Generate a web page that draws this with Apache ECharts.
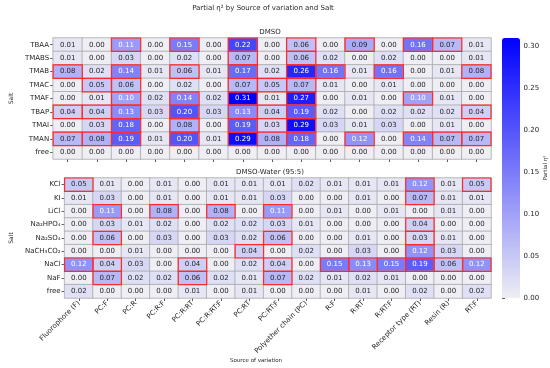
<!DOCTYPE html>
<html>
<head>
<meta charset="utf-8">
<script src="https://cdn.jsdelivr.net/npm/echarts@6/dist/echarts.min.js"></script>
<style>html,body{margin:0;padding:0;background:#fff;}#c{width:550px;height:368px;}</style>
</head>
<body>
<div id="c"></div>
<script>
const sources = ['Fluorophore (F)','PC:F','PC:R','PC:R:F','PC:R:RT','PC:R:RT:F','PC:RT','PC:RT:F','Polyether chain (PC)','R:F','R:RT','R:RT:F','Receptor type (RT)','Resin (R)','RT:F'];
const dmsoSalts = ['TBAA','TMABS','TMAB','TMAC','TMAF','TBAP','TMAI','TMAN','free'];
const waterSalts = ['KCl','KI','LiCl','Na₂HPO₄','Na₂SO₄','NaCH₃CO₂','NaCl','NaF','free'];
const dmsoValues = [
  [0.01,0.00,0.11,0.00,0.15,0.00,0.22,0.00,0.06,0.00,0.09,0.00,0.16,0.07,0.01],
  [0.01,0.00,0.03,0.00,0.02,0.00,0.07,0.00,0.06,0.02,0.00,0.02,0.00,0.00,0.01],
  [0.08,0.02,0.14,0.01,0.06,0.01,0.17,0.02,0.26,0.16,0.01,0.16,0.00,0.01,0.08],
  [0.00,0.05,0.06,0.00,0.02,0.00,0.07,0.05,0.07,0.01,0.00,0.01,0.00,0.00,0.00],
  [0.00,0.01,0.10,0.02,0.14,0.02,0.31,0.01,0.27,0.00,0.01,0.00,0.10,0.01,0.00],
  [0.04,0.04,0.13,0.03,0.20,0.03,0.13,0.04,0.19,0.02,0.00,0.02,0.02,0.02,0.04],
  [0.00,0.03,0.18,0.00,0.08,0.00,0.19,0.03,0.29,0.03,0.01,0.03,0.00,0.01,0.00],
  [0.07,0.08,0.19,0.01,0.20,0.01,0.29,0.08,0.18,0.00,0.12,0.00,0.14,0.07,0.07],
  [0.00,0.00,0.00,0.00,0.00,0.00,0.00,0.00,0.00,0.00,0.00,0.00,0.00,0.00,0.00]
];
const waterValues = [
  [0.05,0.01,0.00,0.01,0.00,0.01,0.01,0.01,0.02,0.01,0.01,0.01,0.12,0.01,0.05],
  [0.01,0.03,0.00,0.01,0.00,0.01,0.01,0.03,0.00,0.00,0.01,0.00,0.07,0.01,0.01],
  [0.00,0.11,0.00,0.08,0.00,0.08,0.00,0.11,0.00,0.01,0.00,0.01,0.00,0.01,0.00],
  [0.00,0.03,0.01,0.02,0.00,0.02,0.02,0.03,0.01,0.00,0.00,0.00,0.04,0.00,0.00],
  [0.00,0.06,0.00,0.03,0.00,0.03,0.02,0.06,0.00,0.00,0.01,0.00,0.03,0.01,0.00],
  [0.00,0.00,0.01,0.00,0.00,0.00,0.04,0.00,0.02,0.00,0.03,0.00,0.12,0.03,0.00],
  [0.12,0.04,0.03,0.00,0.04,0.00,0.02,0.04,0.00,0.15,0.13,0.15,0.19,0.06,0.12],
  [0.00,0.07,0.02,0.02,0.06,0.02,0.01,0.07,0.02,0.01,0.02,0.01,0.00,0.00,0.00],
  [0.02,0.00,0.00,0.00,0.01,0.00,0.01,0.00,0.00,0.00,0.01,0.00,0.02,0.00,0.02]
];
const dmsoSig = [
  [0,0,1,0,1,0,1,0,1,0,1,0,1,1,0],
  [0,0,0,0,0,0,1,0,1,0,0,0,0,0,0],
  [1,0,1,0,1,0,1,0,1,1,0,1,0,0,1],
  [0,1,1,0,0,0,1,1,1,0,0,0,0,0,0],
  [0,0,1,0,1,0,1,0,1,0,0,0,1,0,0],
  [1,1,1,0,1,0,1,1,1,0,0,0,0,0,1],
  [0,0,1,0,1,0,1,0,1,0,0,0,0,0,0],
  [1,1,1,0,1,0,1,1,1,0,1,0,1,1,1],
  [0,0,0,0,0,0,0,0,0,0,0,0,0,0,0]
];
const waterSig = [
  [1,0,0,0,0,0,0,0,0,0,0,0,1,0,1],
  [0,0,0,0,0,0,0,0,0,0,0,0,1,0,0],
  [0,1,0,1,0,1,0,1,0,0,0,0,0,0,0],
  [0,0,0,0,0,0,0,0,0,0,0,0,1,0,0],
  [0,1,0,0,0,0,0,1,0,0,0,0,1,0,0],
  [0,0,0,0,0,0,1,0,0,0,0,0,1,0,0],
  [1,1,0,0,1,0,0,1,0,1,1,1,1,1,1],
  [0,1,0,0,1,0,0,1,0,0,0,0,0,0,0],
  [0,0,0,0,0,0,0,0,0,0,0,0,0,0,0]
];
const colorbarTicks = [0,0.05,0.10,0.15,0.20,0.25,0.30];
const vMax = 0.31;

const FONT = 'DejaVu Sans';
const TXT = '#262626';

function heatData(vals){
  const out = [];
  vals.forEach((row,i)=>row.forEach((v,j)=>{
    out.push({value:[j,i,v], label:{color: v>=0.095 ? '#ffffff' : TXT}});
  }));
  return out;
}
function sigData(sig){
  const out = [];
  sig.forEach((row,i)=>row.forEach((s,j)=>{ if(s) out.push([j,i]); }));
  return out;
}
function renderSig(params, api){
  const c = api.coord([api.value(0), api.value(1)]);
  const s = api.size([1,1]);
  return {type:'rect', shape:{x:c[0]-s[0]/2, y:c[1]-s[1]/2, width:s[0], height:s[1]},
    style:{fill:'none', stroke:'#ff2a2a', lineWidth:1.2}};
}
function xAxisDef(idx, showLabels){
  return {type:'category', data:sources, gridIndex:idx,
    axisLine:{show:false}, splitLine:{show:false},
    axisTick:{show:true, alignWithLabel:true, length:3, lineStyle:{color:'#333', width:0.8}},
    axisLabel:{show:showLabels, rotate:45, interval:0, fontSize:7, fontFamily:FONT, color:TXT, margin:4}};
}
function yAxisDef(idx, cats){
  return {type:'category', data:cats, gridIndex:idx, inverse:true,
    axisLine:{show:false}, splitLine:{show:false},
    axisTick:{show:true, alignWithLabel:true, length:3, lineStyle:{color:'#333', width:0.8}},
    axisLabel:{fontSize:7, fontFamily:FONT, color:TXT, margin:4},
    name:'Salt', nameLocation:'middle', nameGap:37, nameRotate:90,
    nameTextStyle:{fontSize:6, fontFamily:FONT, color:TXT}};
}
const heatBase = {
  type:'heatmap',
  itemStyle:{borderColor:'#a8a8a8', borderWidth:0.8},
  label:{show:true, fontSize:7, fontFamily:FONT, formatter:p=>p.value[2].toFixed(2)},
  emphasis:{disabled:true}
};

const chart = echarts.init(document.getElementById('c'), null, {renderer:'canvas'});
chart.setOption({
  animation:false,
  backgroundColor:'#ffffff',
  grid:[
    {left:49, top:38, width:442, height:121},
    {left:49, top:178, width:442, height:120},
    {left:502, top:38, width:18, height:260}
  ],
  xAxis:[ xAxisDef(0,false), xAxisDef(1,true),
    {type:'value', gridIndex:2, show:false, min:0, max:1} ],
  yAxis:[ yAxisDef(0,dmsoSalts), yAxisDef(1,waterSalts),
    {type:'value', gridIndex:2, min:0, max:vMax, position:'right',
     axisLine:{show:false}, splitLine:{show:false},
     axisTick:{show:true, length:3, lineStyle:{color:'#333', width:0.8}, customValues:colorbarTicks},
     axisLabel:{fontSize:7, fontFamily:FONT, color:TXT, margin:4, customValues:colorbarTicks, formatter:v=>v.toFixed(2)},
     name:'Partial η²', nameLocation:'middle', nameGap:21, nameRotate:90,
     nameTextStyle:{fontSize:5.5, fontFamily:FONT, color:TXT}} ],
  visualMap:{
    type:'continuous', min:0, max:vMax, seriesIndex:[0,1],
    inRange:{color:['#eeeef4','#0000ff']},
    orient:'vertical', left:502, top:38, itemWidth:18, itemHeight:260,
    calculable:false, text:null, padding:0, showLabel:false, hoverLink:false,
    textStyle:{color:'transparent', fontSize:1}
  },
  series:[
    Object.assign({}, heatBase, {xAxisIndex:0, yAxisIndex:0, data:heatData(dmsoValues)}),
    Object.assign({}, heatBase, {xAxisIndex:1, yAxisIndex:1, data:heatData(waterValues)}),
    {type:'custom', xAxisIndex:0, yAxisIndex:0, renderItem:renderSig, data:sigData(dmsoSig), encode:{x:0,y:1}, z:10, silent:true},
    {type:'custom', xAxisIndex:1, yAxisIndex:1, renderItem:renderSig, data:sigData(waterSig), encode:{x:0,y:1}, z:10, silent:true},
    {type:'scatter', xAxisIndex:2, yAxisIndex:2, data:[]}
  ],
  graphic:[
    {type:'text', x:263, y:8, style:{text:'Partial η² by Source of variation and Salt', fontSize:7, fontFamily:FONT, fill:TXT, textAlign:'center', textVerticalAlign:'middle'}},
    {type:'text', x:270, y:32, style:{text:'DMSO', fontSize:7, fontFamily:FONT, fill:TXT, textAlign:'center', textVerticalAlign:'middle'}},
    {type:'text', x:270, y:172, style:{text:'DMSO-Water (95:5)', fontSize:7, fontFamily:FONT, fill:TXT, textAlign:'center', textVerticalAlign:'middle'}},
    {type:'text', x:256, y:361, style:{text:'Source of variation', fontSize:5.5, fontFamily:FONT, fill:TXT, textAlign:'center', textVerticalAlign:'middle'}}
  ]
});
</script>
</body>
</html>
